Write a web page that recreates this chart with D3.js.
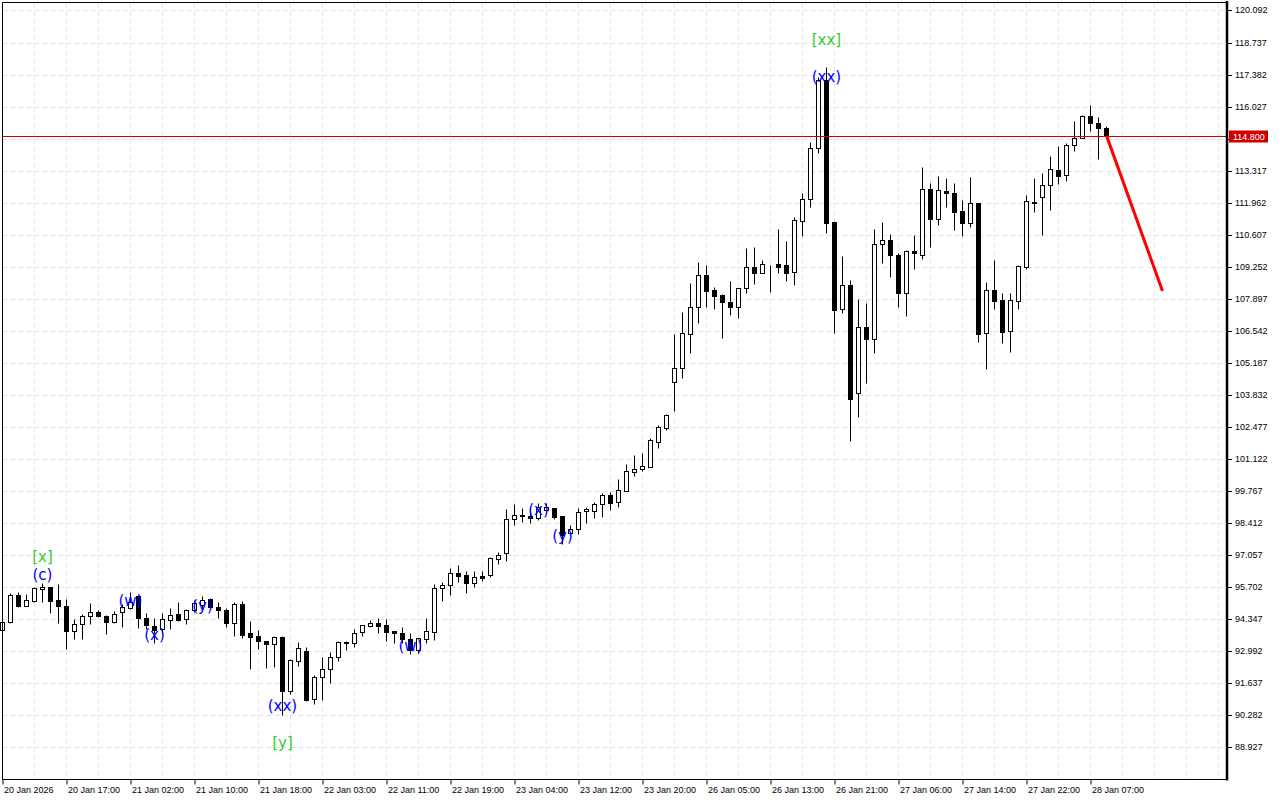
<!DOCTYPE html>
<html>
<head>
<meta charset="utf-8">
<script src="https://cdn.jsdelivr.net/npm/d3@7"></script>
<style>
  html, body { margin: 0; padding: 0; background: #ffffff; }
  svg { display: block; }
</style>
</head>
<body>
<svg id="chart" width="1280" height="800"></svg>
<script>
// ---------------- DATA ----------------
const open = [
93.893, 94.244, 95.373, 94.920, 95.119, 95.639, 95.711, 95.149, 94.908, 93.838,
94.134, 94.472, 94.654, 94.472, 94.218, 94.641, 94.836, 95.318, 94.413, 94.074,
93.922, 94.303, 94.557, 94.345, 94.738, 94.950, 95.216, 94.865, 94.738, 94.189,
94.980, 93.753, 93.639, 93.427, 93.288, 93.609, 91.300, 92.594, 93.005, 90.962,
91.892, 92.231, 92.738, 93.385, 93.330, 93.796, 94.074, 94.176, 94.091, 93.838,
93.753, 93.499, 93.047, 93.499, 93.821, 95.656, 95.783, 96.290, 96.206, 95.868,
96.164, 96.219, 96.908, 97.136, 98.574, 98.769, 98.714, 98.629, 98.968, 99.040,
98.714, 97.982, 98.151, 98.913, 98.938, 99.221, 99.602, 99.319, 99.784, 100.587,
100.702, 100.799, 101.856, 102.448, 104.368, 104.960, 106.398, 107.565, 108.893, 108.259,
108.060, 107.751, 107.540, 108.343, 109.232, 109.003, 109.342, 109.371, 109.329, 109.020,
111.202, 112.107, 114.264, 117.153, 111.147, 107.455, 108.470, 103.903, 106.694, 106.187,
110.204, 110.373, 109.739, 108.157, 109.921, 109.765, 112.530, 111.262, 112.446, 112.361,
111.600, 111.092, 111.938, 106.440, 108.259, 107.849, 106.550, 107.819, 109.257, 111.951,
112.217, 112.699, 113.347, 113.122, 114.391, 114.687, 115.630, 115.322, 115.110
];
const high = [
94.442, 95.457, 95.512, 95.402, 95.724, 95.893, 95.711, 95.851, 95.191, 94.358,
94.569, 95.047, 94.726, 94.527, 94.696, 94.992, 95.500, 95.373, 94.611, 94.387,
94.611, 94.823, 95.064, 94.781, 95.161, 95.331, 95.259, 95.064, 94.836, 95.077,
95.119, 94.273, 93.880, 93.427, 93.639, 93.626, 92.679, 93.385, 93.161, 91.990,
92.763, 92.962, 93.427, 93.440, 93.922, 94.117, 94.316, 94.400, 94.345, 93.838,
94.020, 93.753, 93.567, 94.400, 95.825, 95.923, 96.515, 96.629, 96.401, 96.401,
96.401, 96.993, 97.191, 98.997, 99.209, 99.040, 99.040, 99.251, 99.251, 99.065,
98.714, 98.333, 99.040, 99.082, 99.319, 99.674, 99.741, 100.266, 100.913, 101.294,
101.391, 102.000, 102.562, 103.028, 106.411, 107.354, 108.580, 109.443, 109.329, 108.398,
108.115, 108.652, 108.369, 110.048, 110.077, 109.540, 109.342, 110.851, 110.356, 111.346,
112.386, 114.543, 117.292, 117.690, 111.147, 109.710, 108.695, 107.904, 107.709, 110.851,
111.147, 110.640, 109.824, 109.963, 110.598, 113.473, 112.809, 113.093, 113.008, 112.809,
112.065, 113.038, 111.938, 108.610, 109.540, 108.132, 108.157, 109.329, 112.289, 113.008,
113.207, 113.939, 114.362, 114.501, 115.419, 115.672, 116.095, 115.601, 115.207
];
const low = [
93.766, 94.189, 94.878, 94.908, 95.089, 95.089, 94.624, 94.176, 93.102, 93.525,
93.525, 94.134, 94.430, 93.736, 94.176, 94.007, 94.768, 93.965, 93.948, 93.330,
93.753, 93.948, 94.261, 94.134, 94.654, 94.810, 94.810, 94.413, 94.032, 93.652,
93.554, 92.256, 93.102, 92.298, 92.328, 90.311, 91.173, 92.383, 90.890, 90.763,
90.932, 91.664, 92.594, 93.047, 93.161, 93.652, 94.007, 93.779, 93.427, 93.356,
93.356, 92.865, 92.907, 93.330, 93.470, 95.119, 95.386, 95.910, 95.470, 95.724,
95.965, 96.147, 96.671, 96.823, 98.321, 98.460, 98.431, 98.545, 98.883, 98.587,
97.530, 97.898, 97.953, 98.431, 98.617, 98.684, 98.968, 99.107, 99.784, 100.405,
100.630, 100.799, 101.602, 102.351, 103.154, 104.563, 105.620, 106.889, 107.565, 107.481,
106.254, 107.214, 107.075, 108.157, 108.525, 109.003, 108.187, 109.003, 108.665, 108.496,
110.555, 111.794, 114.078, 110.695, 106.466, 107.286, 101.898, 102.913, 104.326, 105.620,
109.426, 108.834, 107.565, 107.185, 109.172, 109.570, 110.103, 111.033, 111.794, 110.809,
110.555, 110.949, 106.085, 104.943, 107.481, 106.043, 105.662, 107.481, 109.172, 111.570,
110.598, 111.655, 112.742, 112.881, 114.150, 114.687, 115.009, 113.799, 114.755
];
const close = [
94.244, 95.373, 94.920, 95.149, 95.656, 95.711, 95.132, 94.895, 93.838, 94.134,
94.472, 94.654, 94.472, 94.218, 94.557, 94.865, 95.089, 94.413, 94.091, 93.905,
94.345, 94.540, 94.328, 94.726, 95.035, 95.161, 94.853, 94.726, 94.176, 94.980,
93.694, 93.609, 93.415, 93.288, 93.584, 91.326, 92.624, 93.119, 90.932, 91.892,
92.231, 92.738, 93.373, 93.330, 93.779, 94.091, 94.176, 94.049, 93.821, 93.753,
93.499, 93.047, 93.542, 93.838, 95.656, 95.783, 96.290, 96.189, 95.868, 96.121,
96.104, 96.925, 97.077, 98.574, 98.756, 98.714, 98.629, 99.107, 99.107, 98.684,
97.910, 98.151, 98.896, 98.997, 99.221, 99.602, 99.251, 99.813, 100.617, 100.702,
100.828, 101.928, 102.465, 102.985, 104.960, 106.440, 107.565, 108.893, 108.242, 108.031,
107.751, 107.540, 108.343, 109.232, 109.003, 109.358, 109.316, 109.232, 109.003, 111.219,
112.107, 114.264, 117.153, 111.118, 107.426, 108.470, 103.649, 106.694, 106.187, 110.204,
110.373, 109.739, 108.157, 109.921, 109.824, 112.530, 111.262, 112.488, 112.361, 111.583,
111.092, 111.938, 106.398, 108.259, 107.819, 106.508, 107.849, 109.287, 112.023, 111.993,
112.699, 113.376, 113.105, 114.391, 114.687, 115.630, 115.322, 115.110, 114.800
];

// price axis tick labels (114.672 sits under the current-price box, as in the reference)
const yTickLabels = ["120.092","118.737","117.382","116.027","114.672","113.317","111.962",
  "110.607","109.252","107.897","106.542","105.187","103.832","102.477","101.122","99.767",
  "98.412","97.057","95.702","94.347","92.992","91.637","90.282","88.927"];

// time axis: bar index + label
const xTickBars = [0, 8, 16, 24, 32, 40, 48, 56, 64, 72, 80, 88, 96, 104, 112, 120, 128, 136];
const xTickLabels = ["20 Jan 2026","20 Jan 17:00","21 Jan 02:00","21 Jan 10:00","21 Jan 18:00",
  "22 Jan 03:00","22 Jan 11:00","22 Jan 19:00","23 Jan 04:00","23 Jan 12:00","23 Jan 20:00",
  "26 Jan 05:00","26 Jan 13:00","26 Jan 21:00","27 Jan 06:00","27 Jan 14:00","27 Jan 22:00",
  "28 Jan 07:00"];

// wave labels
const waveBars   = [5, 5, 16, 19, 25, 35, 35, 51, 67, 70, 103, 103];
const wavePrices = [97.003, 96.232, 95.138, 93.680, 94.929, 90.687, 89.114, 93.216, 98.991, 97.869, 118.866, 117.292];
const waveTexts  = ["[x]", "(c)", "(w)", "(x)", "(y)", "(xx)", "[y]", "(w)", "(x)", "(y)", "[xx]", "(xx)"];
const waveKinds  = ["major","minor","minor","minor","minor","minor","major","minor","minor","minor","major","minor"];

// current price and forecast
const currentPrice = 114.800;
const forecastBars = [138, 145];
const forecastPrices = [114.800, 108.229];

// ---------------- DRAW ----------------
const svg = d3.select("#chart");
const W = 1280, H = 800;
const plotL = 2.5, plotR = 1227, plotT = 2.5, plotB = 779.5;

const x = d3.scaleLinear().domain([0, 152]).range([2.5, 2.5 + 8 * 152]);
const y = d3.scaleLinear().domain([87.591, 120.451]).range([779, 2]);
const yTicks = yTickLabels.map(Number);
const crisp = v => Math.round(v) + 0.5;

svg.append("rect").attr("width", W).attr("height", H).attr("fill", "#ffffff");

// grid
const grid = svg.append("g").attr("stroke", "#e3e3e3").attr("stroke-width", 1).attr("stroke-dasharray", "5,3");
grid.selectAll("line.h").data(yTicks).enter().append("line")
  .attr("x1", plotL).attr("x2", plotR - 1)
  .attr("y1", d => crisp(y(d))).attr("y2", d => crisp(y(d)));
const vBars = d3.range(4, 153, 4).filter(b => x(b) < plotR - 2);
grid.selectAll("line.v").data(vBars).enter().append("line")
  .attr("x1", d => x(d)).attr("x2", d => x(d))
  .attr("y1", plotT).attr("y2", plotB);

// candles
const idx = d3.range(open.length);
const cg = svg.append("g");
cg.selectAll("line.wick").data(idx).enter().append("line")
  .attr("x1", i => x(i)).attr("x2", i => x(i))
  .attr("y1", i => crisp(y(high[i]))).attr("y2", i => crisp(y(low[i])))
  .attr("stroke", "#000").attr("stroke-width", 1);
cg.selectAll("rect.body").data(idx).enter().append("rect")
  .attr("x", i => x(i) - 2)
  .attr("width", 4)
  .attr("y", i => crisp(y(Math.max(open[i], close[i]))))
  .attr("height", i => Math.max(0, crisp(y(Math.min(open[i], close[i]))) - crisp(y(Math.max(open[i], close[i])))))
  .attr("fill", i => close[i] >= open[i] ? "#ffffff" : "#000000")
  .attr("stroke", "#000").attr("stroke-width", 1);

// current price line
svg.append("line")
  .attr("x1", plotL).attr("x2", plotR)
  .attr("y1", crisp(y(currentPrice))).attr("y2", crisp(y(currentPrice)))
  .attr("stroke", "#cc0000").attr("stroke-width", 1);

// forecast line
svg.append("line")
  .attr("x1", x(forecastBars[0])).attr("y1", y(forecastPrices[0]))
  .attr("x2", x(forecastBars[1])).attr("y2", y(forecastPrices[1]))
  .attr("stroke", "#ff0000").attr("stroke-width", 3);

// wave labels
svg.append("g").selectAll("text").data(d3.range(waveTexts.length)).enter().append("text")
  .attr("x", i => x(waveBars[i]))
  .attr("y", i => y(wavePrices[i]))
  .attr("dy", "0.36em")
  .attr("text-anchor", "middle")
  .attr("font-family", "DejaVu Sans, sans-serif")
  .attr("font-size", 15)
  .attr("fill", i => waveKinds[i] === "major" ? "#32cd32" : "#0000ff")
  .text(i => waveTexts[i]);

// frame
svg.append("line").attr("x1", plotL).attr("x2", plotR).attr("y1", plotT).attr("y2", plotT).attr("stroke", "#000");
svg.append("line").attr("x1", plotL).attr("x2", plotL).attr("y1", plotT).attr("y2", plotB).attr("stroke", "#000");

// right axis (the label hidden under the current-price box is not drawn)
const hiddenByPrice = v => Math.abs(y(v) - y(currentPrice)) < 10;
const yAxis = d3.axisRight(y).tickValues(yTicks).tickSize(4).tickPadding(3)
  .tickFormat((d, i) => hiddenByPrice(d) ? "" : yTickLabels[i]);
const ya = svg.append("g").attr("transform", `translate(${plotR + 1},0)`).call(yAxis);
ya.select(".domain").remove();
ya.selectAll(".tick line").attr("stroke", "#000");
ya.selectAll(".tick").attr("transform", d => `translate(0,${crisp(y(d))})`);
ya.selectAll("text").attr("font-family", "Liberation Sans, Arial, sans-serif").attr("font-size", 9).attr("fill", "#000");
svg.append("line").attr("x1", plotR).attr("x2", plotR).attr("y1", 1).attr("y2", plotB + 1)
  .attr("stroke", "#000").attr("stroke-width", 2.5);

// bottom axis
const xAxis = d3.axisBottom(x).tickValues(xTickBars).tickSize(5).tickPadding(2)
  .tickFormat((d, i) => xTickLabels[i]);
const xa = svg.append("g").attr("transform", `translate(0,${plotB})`).call(xAxis);
xa.select(".domain").remove();
xa.selectAll(".tick line").attr("stroke", "#000");
xa.selectAll("text").attr("text-anchor", "start").attr("x", 1)
  .attr("font-family", "Liberation Sans, Arial, sans-serif").attr("font-size", 9).attr("fill", "#000");
svg.append("line").attr("x1", plotL - 0.5).attr("x2", plotR).attr("y1", plotB).attr("y2", plotB).attr("stroke", "#000");

// current price label
const py = crisp(y(currentPrice));
svg.append("rect").attr("x", 1229).attr("y", py - 6).attr("width", 39).attr("height", 12).attr("fill", "#cc0000");
svg.append("text").attr("x", 1233).attr("y", py).attr("dy", "0.35em")
  .attr("font-family", "Liberation Sans, Arial, sans-serif").attr("font-size", 9).attr("fill", "#ffffff")
  .text(currentPrice.toFixed(3));
</script>
</body>
</html>
